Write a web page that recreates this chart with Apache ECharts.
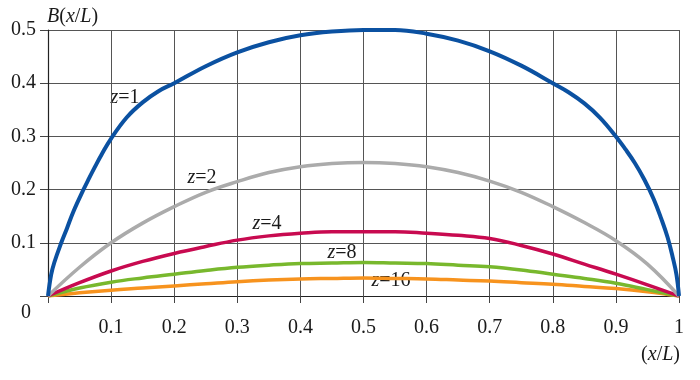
<!DOCTYPE html>
<html><head><meta charset="utf-8">
<script src="https://cdn.jsdelivr.net/npm/echarts@6/dist/echarts.min.js"></script>
<style>html,body{margin:0;padding:0;background:#fff}#c{width:700px;height:380px}</style>
</head><body><div id="c"></div>
<script>
// x positions (x/L) sampled for z=1 curve
const xZ1 = [0, 0.005, 0.01, 0.021, 0.03, 0.04, 0.055, 0.065, 0.075, 0.085, 0.1, 0.125, 0.15, 0.175, 0.2, 0.25, 0.3, 0.35, 0.4, 0.45, 0.5, 0.55, 0.6, 0.65, 0.7, 0.75, 0.8, 0.825, 0.85, 0.875, 0.9, 0.915, 0.93, 0.945, 0.96, 0.972, 0.982, 0.99, 0.996, 1];
const yZ1 = [0, 0.04, 0.063, 0.1, 0.127, 0.158, 0.197, 0.221, 0.244, 0.266, 0.296, 0.336, 0.364, 0.385, 0.4, 0.432, 0.458, 0.477, 0.49, 0.497, 0.5, 0.5, 0.493, 0.48, 0.46, 0.433, 0.4, 0.383, 0.362, 0.335, 0.3, 0.276, 0.25, 0.219, 0.182, 0.145, 0.11, 0.073, 0.04, 0];
// x positions for the other curves
const xOther = [0, 0.05, 0.1, 0.15, 0.2, 0.25, 0.3, 0.35, 0.4, 0.45, 0.5, 0.55, 0.6, 0.65, 0.7, 0.75, 0.8, 0.85, 0.9, 0.95, 1];
const yZ2  = [0, 0.054, 0.1, 0.137, 0.168, 0.195, 0.215, 0.232, 0.243, 0.249, 0.251, 0.249, 0.243, 0.232, 0.216, 0.195, 0.168, 0.138, 0.104, 0.06, 0];
const yZ4  = [0, 0.025, 0.047, 0.065, 0.08, 0.093, 0.105, 0.113, 0.118, 0.121, 0.121, 0.121, 0.118, 0.114, 0.108, 0.095, 0.079, 0.06, 0.041, 0.021, 0];
const yZ8  = [0, 0.015, 0.026, 0.034, 0.041, 0.048, 0.054, 0.058, 0.061, 0.062, 0.063, 0.062, 0.061, 0.058, 0.055, 0.049, 0.041, 0.033, 0.024, 0.012, 0];
const yZ16 = [0, 0.006, 0.011, 0.015, 0.019, 0.023, 0.027, 0.03, 0.032, 0.033, 0.034, 0.033, 0.032, 0.03, 0.028, 0.025, 0.022, 0.018, 0.014, 0.008, 0];
const seriesNames = ['z=1', 'z=2', 'z=4', 'z=8', 'z=16'];
const colors = ['#0b51a1', '#ababab', '#c80a50', '#78b82d', '#f7931e'];

const pair = (xs, ys) => xs.map((x, i) => [x, ys[i]]);
const serif = "'Liberation Serif', serif";
const chart = echarts.init(document.getElementById('c'));

const curves = [pair(xZ1, yZ1), pair(xOther, yZ2), pair(xOther, yZ4), pair(xOther, yZ8), pair(xOther, yZ16)];
const widths = [4, 3.5, 3.5, 3.5, 3.5];

const richIt = {
  i: { fontStyle: 'italic', fontFamily: serif, fontSize: 20, fill: '#1a1a1a' },
  n: { fontFamily: serif, fontSize: 20, fill: '#1a1a1a' }
};
function zLabel(txt, x, y) {
  const num = txt.split('=')[1];
  return { type: 'text', x: x, y: y,
    style: { text: '{i|z}{n|=' + num + '}', rich: richIt, align: 'center', verticalAlign: 'middle', fill: '#1a1a1a' } };
}

chart.setOption({
  animation: false,
  textStyle: { fontFamily: serif },
  grid: { left: 48, right: 21, top: 30, bottom: 84 },
  xAxis: {
    type: 'value', min: 0, max: 1, interval: 0.1,
    axisLine: { show: true, lineStyle: { color: '#222', width: 1.2 } },
    axisTick: { show: true, length: 7, lineStyle: { color: '#444' } },
    axisLabel: { margin: 22, color: '#1a1a1a', fontFamily: serif, fontSize: 20,
      formatter: v => v === 0 ? '' : (Math.abs(v - 1) < 1e-9 ? '1' : v.toFixed(1)) },
    splitLine: { show: true, lineStyle: { color: '#555', width: 1 } }
  },
  yAxis: {
    type: 'value', min: 0, max: 0.5, interval: 0.1,
    axisLine: { show: true, lineStyle: { color: '#222', width: 1.2 } },
    axisTick: { show: true, length: 8, lineStyle: { color: '#444' } },
    axisLabel: { margin: 12, color: '#1a1a1a', fontFamily: serif, fontSize: 20,
      formatter: v => v === 0 ? '{o|0}' : v.toFixed(1),
      rich: { o: { fontFamily: serif, fontSize: 20, color: '#1a1a1a', padding: [34, 5, 0, 0] } } },
    splitLine: { show: true, lineStyle: { color: '#555', width: 1 } }
  },
  series: curves.slice().reverse().map((d, k) => {
    const i = curves.length - 1 - k;
    return { type: 'line', name: seriesNames[i], data: d, showSymbol: false, smooth: 0.4,
      lineStyle: { color: colors[i], width: widths[i] }, itemStyle: { color: colors[i] }, z: 2 + k };
  }),
  graphic: [
    { type: 'text', x: 47, y: 17, style: { text: '{i|B}{n|(}{i|x}{n|/}{i|L}{n|)}', rich: richIt, align: 'left', verticalAlign: 'middle' } },
    { type: 'text', x: 680, y: 355, style: { text: '{n|(}{i|x}{n|/}{i|L}{n|)}', rich: richIt, align: 'right', verticalAlign: 'middle' } },
    zLabel(seriesNames[0], 125, 98),
    zLabel(seriesNames[1], 202, 178),
    zLabel(seriesNames[2], 267, 224),
    zLabel(seriesNames[3], 342, 253),
    zLabel(seriesNames[4], 391, 281)
  ]
});
</script></body></html>
